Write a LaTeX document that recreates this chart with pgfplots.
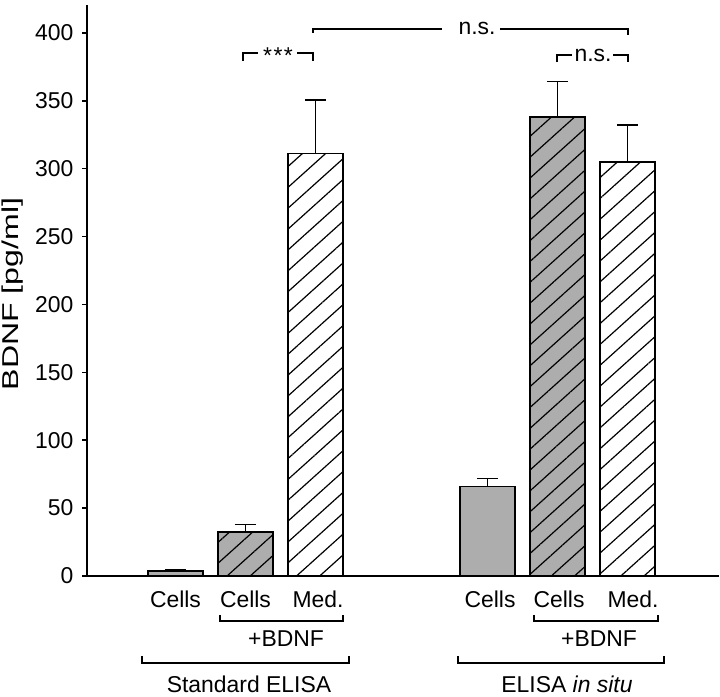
\documentclass[border=0pt]{standalone}
\usepackage{fontspec}
\setmainfont{Liberation Sans}
\usepackage{pgfplots}
\pgfplotsset{compat=1.18}
\usetikzlibrary{patterns.meta}
\definecolor{barg}{gray}{0.68}
\pgfplotstableread{
x y e
1 3.5 0.8
5.46 66 5.7
}\plain
\pgfplotstableread{
x y e
2 32.4 5.6
6.46 338 26
}\grayhatch
\pgfplotstableread{
x y e
3 311 39.5
7.46 305 27
}\whitehatch
\begin{document}
\begin{tikzpicture}[x=1bp,y=1bp]
\useasboundingbox (0,0) rectangle (720,697);
\begin{axis}[
  at={(87bp,121bp)}, anchor=south west,
  scale only axis, width=632bp, height=571bp,
  xmin=-0.264, xmax=8.764, ymin=0, ymax=420.5,
  axis x line*=bottom, axis y line*=left,
  xtick=\empty,
  ytick={0,50,...,400},
  tick align=outside, major tick length=5bp,
  /pgf/number format/assume math mode=true,
  yticklabel style={font=\fontsize{23}{27}\selectfont, xshift=-5bp},
  axis line style={line width=1.6bp},
  tick style={line width=1.6bp, black},
  clip=false,
  bar width=55bp,
]
\addplot[ybar, bar shift=0pt, draw=black, line width=1.5bp, fill=barg,
  error bars/.cd, y dir=plus, y explicit, error mark=|,
  error bar style={line width=1.5bp, black},
  error mark options={line width=1.5bp, mark size=10.5bp, black}]
  table[x=x, y=y, y error=e] {\plain};
\addplot[ybar, bar shift=0pt, draw=black, line width=1.5bp, fill=barg,
  postaction={pattern={Lines[angle=42, distance=15.5bp, line width=1.2bp]}},
  error bars/.cd, y dir=plus, y explicit, error mark=|,
  error bar style={line width=1.5bp, black},
  error mark options={line width=1.5bp, mark size=10.5bp, black}]
  table[x=x, y=y, y error=e] {\grayhatch};
\addplot[ybar, bar shift=0pt, draw=black, line width=1.5bp, fill=white,
  postaction={pattern={Lines[angle=42, distance=15.5bp, line width=1.2bp]}},
  error bars/.cd, y dir=plus, y explicit, error mark=|,
  error bar style={line width=1.5bp, black},
  error mark options={line width=1.5bp, mark size=10.5bp, black}]
  table[x=x, y=y, y error=e] {\whitehatch};
\end{axis}
% y label
\node[rotate=90, font=\fontsize{23}{27}\selectfont] at (13,403) {\scalebox{1.4}[1]{BDNF [pg/ml]}};
% category labels
\begin{scope}[font=\fontsize{23}{27}\selectfont]
\foreach \xx/\tt in {175.5/Cells, 245.5/Cells, 318/Med., 490/Cells, 559/Cells, 633/Med.}
  \node[anchor=base, inner sep=0pt] at (\xx,89) {\tt};
\draw[line width=1.4bp] (220,82) -- (220,76) -- (343,76) -- (343,82);
\draw[line width=1.4bp] (534,82) -- (534,76) -- (658,76) -- (658,82);
\node[anchor=base, inner sep=0pt] at (286,50) {+BDNF};
\node[anchor=base, inner sep=0pt] at (599,50) {+BDNF};
\draw[line width=1.4bp] (142,41) -- (142,34) -- (349,34) -- (349,41);
\draw[line width=1.4bp] (458,41) -- (458,34) -- (664,34) -- (664,41);
\node[anchor=base, inner sep=0pt] at (249,4) {Standard ELISA};
\node[anchor=base, inner sep=0pt] at (567,4) {ELISA \textit{in situ}};
% significance
\draw[line width=1.3bp] (243,636) -- (243,644) -- (258,644);
\draw[line width=1.3bp] (297,644) -- (313,644) -- (313,636);
\node[inner sep=0pt] at (278,641) {*\kern1.5bp*\kern1.5bp*};
\draw[line width=1.3bp] (313,664) -- (313,668) -- (442,668);
\draw[line width=1.3bp] (500,668) -- (628,668) -- (628,662);
\node[anchor=base, inner sep=0pt] at (477,662) {n.s.};
\draw[line width=1.3bp] (557,635) -- (557,642) -- (572,642);
\draw[line width=1.3bp] (613,642) -- (628,642) -- (628,635);
\node[anchor=base, inner sep=0pt] at (593,635) {n.s.};
\end{scope}
\end{tikzpicture}
\end{document}
